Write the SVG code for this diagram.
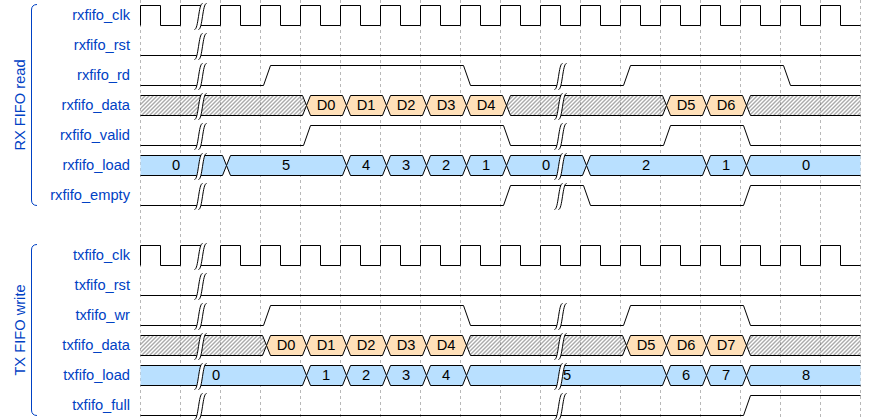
<svg xmlns="http://www.w3.org/2000/svg" xmlns:xlink="http://www.w3.org/1999/xlink" width="880" height="420" viewBox="0 0 880 420">
<defs>
<style>
.name{font-family:"Liberation Sans",Arial,Helvetica,sans-serif;font-size:11pt;fill:#0041c4;text-anchor:end}
.grp{font-family:"Liberation Sans",Arial,Helvetica,sans-serif;font-size:11pt;fill:#0041c4;text-anchor:middle}
.lbl{font-family:"Liberation Sans",Arial,Helvetica,sans-serif;font-size:11pt;fill:#000;text-anchor:middle}
.w{fill:none;stroke:#000;stroke-width:1}
.x{fill:url(#hatch);stroke:#000;stroke-width:1}
.d{fill:#ffe0b9;stroke:#000;stroke-width:1}
.n{fill:#b9e0ff;stroke:#000;stroke-width:1}
.gm{stroke:#999;stroke-width:0.7;stroke-dasharray:3,3}
.br{fill:none;stroke:#0041c4;stroke-width:1}
.gl{fill:none;stroke:#000;stroke-width:1}
</style>
<pattern id="hatch" width="4" height="4" patternUnits="userSpaceOnUse">
<path d="M-1,1 l2,-2 M0,4 l4,-4 M3,5 l2,-2" stroke="#444" stroke-width="0.9"/>
</pattern>
<g id="gap">
<path d="M2,-2 H6 C2,-2 2,24 -2,24 H-6 C-2,24 -2,-2 2,-2 Z" fill="#fff"/>
<path class="gl" d="M-6,24 C-2,24 -2,-2 2,-2"/>
<path class="gl" d="M-2,24 C2,24 2,-2 6,-2"/>
</g>
<path id="clk" class="w" d="M140,25 V5 H160 V25 H180 V5 H200 V25 H220 V5 H240 V25 H260 V5 H280 V25 H300 V5 H320 V25 H340 V5 H360 V25 H380 V5 H400 V25 H420 V5 H440 V25 H460 V5 H480 V25 H500 V5 H520 V25 H540 V5 H560 V25 H580 V5 H600 V25 H620 V5 H640 V25 H660 V5 H680 V25 H700 V5 H720 V25 H740 V5 H760 V25 H780 V5 H800 V25 H820 V5 H840 V25 H860"/>
</defs>
<rect width="880" height="420" fill="#fff"/>

<g id="grid" transform="translate(0.5,0)">
<path class="gm" d="M140,0 V420 M180,0 V420 M220,0 V420 M260,0 V420 M300,0 V420 M340,0 V420 M380,0 V420 M420,0 V420 M460,0 V420 M500,0 V420 M540,0 V420 M580,0 V420 M620,0 V420 M660,0 V420 M700,0 V420 M740,0 V420 M780,0 V420 M820,0 V420 M860,0 V420"/>
</g>

<g id="group-rx">
<path class="br" d="M37,4.5 C33.5,4.5 31.5,6.5 31.5,10 V200 C31.5,203.5 33.5,205.5 37,205.5"/>
<text class="grp" transform="translate(25,105) rotate(-90)">RX FIFO read</text>
</g>
<g id="group-tx">
<path class="br" d="M37,244.5 C33.5,244.5 31.5,246.5 31.5,250 V410 C31.5,413.5 33.5,415.5 37,415.5"/>
<text class="grp" transform="translate(25,330) rotate(-90)">TX FIFO write</text>
</g>

<g id="rxfifo_clk">
<text class="name" x="130" y="20">rxfifo_clk</text>
<g transform="translate(0.5,0.5)"><use xlink:href="#clk"/><use xlink:href="#gap" transform="translate(200,5)"/></g>
</g>
<g id="rxfifo_rst">
<text class="name" x="130" y="50">rxfifo_rst</text>
<g transform="translate(0.5,0.5)"><path class="w" d="M140,55 H860"/><use xlink:href="#gap" transform="translate(200,35)"/></g>
</g>
<g id="rxfifo_rd">
<text class="name" x="130" y="80">rxfifo_rd</text>
<g transform="translate(0.5,0.5)"><path class="w" d="M140,85 H263 L270,65 H463 L470,85 H623 L630,65 H783 L790,85 H860"/>
<use xlink:href="#gap" transform="translate(200,65)"/><use xlink:href="#gap" transform="translate(560,65)"/></g>
</g>
<g id="rxfifo_data">
<text class="name" x="130" y="110">rxfifo_data</text>
<g transform="translate(0.5,0.5)">
<path class="x" d="M140,95 H302 L306,105 L302,115 H140"/>
<path class="d" d="M306,105 L310,95 H342 L346,105 L342,115 H310 Z"/>
<path class="d" d="M346,105 L350,95 H382 L386,105 L382,115 H350 Z"/>
<path class="d" d="M386,105 L390,95 H422 L426,105 L422,115 H390 Z"/>
<path class="d" d="M426,105 L430,95 H462 L466,105 L462,115 H430 Z"/>
<path class="d" d="M466,105 L470,95 H502 L506,105 L502,115 H470 Z"/>
<path class="x" d="M506,105 L510,95 H662 L666,105 L662,115 H510 Z"/>
<path class="d" d="M666,105 L670,95 H702 L706,105 L702,115 H670 Z"/>
<path class="d" d="M706,105 L710,95 H742 L746,105 L742,115 H710 Z"/>
<path class="x" d="M860,95 H750 L746,105 L750,115 H860"/>
<use xlink:href="#gap" transform="translate(200,95)"/><use xlink:href="#gap" transform="translate(560,95)"/>
</g>
<text class="lbl" x="326" y="110">D0</text><text class="lbl" x="366" y="110">D1</text><text class="lbl" x="406" y="110">D2</text><text class="lbl" x="446" y="110">D3</text><text class="lbl" x="486" y="110">D4</text><text class="lbl" x="686" y="110">D5</text><text class="lbl" x="726" y="110">D6</text>
</g>
<g id="rxfifo_valid">
<text class="name" x="130" y="140">rxfifo_valid</text>
<g transform="translate(0.5,0.5)"><path class="w" d="M140,145 H303 L310,125 H503 L510,145 H663 L670,125 H743 L750,145 H860"/>
<use xlink:href="#gap" transform="translate(200,125)"/><use xlink:href="#gap" transform="translate(560,125)"/></g>
</g>
<g id="rxfifo_load">
<text class="name" x="130" y="170">rxfifo_load</text>
<g transform="translate(0.5,0.5)">
<path class="n" d="M140,155 H222 L226,165 L222,175 H140"/>
<path class="n" d="M226,165 L230,155 H342 L346,165 L342,175 H230 Z"/>
<path class="n" d="M346,165 L350,155 H382 L386,165 L382,175 H350 Z"/>
<path class="n" d="M386,165 L390,155 H422 L426,165 L422,175 H390 Z"/>
<path class="n" d="M426,165 L430,155 H462 L466,165 L462,175 H430 Z"/>
<path class="n" d="M466,165 L470,155 H502 L506,165 L502,175 H470 Z"/>
<path class="n" d="M506,165 L510,155 H582 L586,165 L582,175 H510 Z"/>
<path class="n" d="M586,165 L590,155 H702 L706,165 L702,175 H590 Z"/>
<path class="n" d="M706,165 L710,155 H742 L746,165 L742,175 H710 Z"/>
<path class="n" d="M860,155 H750 L746,165 L750,175 H860"/>
<use xlink:href="#gap" transform="translate(200,155)"/><use xlink:href="#gap" transform="translate(560,155)"/>
</g>
<text class="lbl" x="176" y="170">0</text><text class="lbl" x="286" y="170">5</text><text class="lbl" x="366" y="170">4</text><text class="lbl" x="406" y="170">3</text><text class="lbl" x="446" y="170">2</text><text class="lbl" x="486" y="170">1</text><text class="lbl" x="546" y="170">0</text><text class="lbl" x="646" y="170">2</text><text class="lbl" x="726" y="170">1</text><text class="lbl" x="806" y="170">0</text>
</g>
<g id="rxfifo_empty">
<text class="name" x="130" y="200">rxfifo_empty</text>
<g transform="translate(0.5,0.5)"><path class="w" d="M140,205 H503 L510,185 H583 L590,205 H743 L750,185 H860"/>
<use xlink:href="#gap" transform="translate(200,185)"/><use xlink:href="#gap" transform="translate(560,185)"/></g>
</g>

<g id="txfifo_clk">
<text class="name" x="130" y="260">txfifo_clk</text>
<g transform="translate(0.5,240.5)"><use xlink:href="#clk"/><use xlink:href="#gap" transform="translate(200,5)"/></g>
</g>
<g id="txfifo_rst">
<text class="name" x="130" y="290">txfifo_rst</text>
<g transform="translate(0.5,0.5)"><path class="w" d="M140,295 H860"/><use xlink:href="#gap" transform="translate(200,275)"/></g>
</g>
<g id="txfifo_wr">
<text class="name" x="130" y="320">txfifo_wr</text>
<g transform="translate(0.5,0.5)"><path class="w" d="M140,325 H263 L270,305 H463 L470,325 H623 L630,305 H743 L750,325 H860"/>
<use xlink:href="#gap" transform="translate(200,305)"/><use xlink:href="#gap" transform="translate(560,305)"/></g>
</g>
<g id="txfifo_data">
<text class="name" x="130" y="350">txfifo_data</text>
<g transform="translate(0.5,0.5)">
<path class="x" d="M140,335 H262 L266,345 L262,355 H140"/>
<path class="d" d="M266,345 L270,335 H302 L306,345 L302,355 H270 Z"/>
<path class="d" d="M306,345 L310,335 H342 L346,345 L342,355 H310 Z"/>
<path class="d" d="M346,345 L350,335 H382 L386,345 L382,355 H350 Z"/>
<path class="d" d="M386,345 L390,335 H422 L426,345 L422,355 H390 Z"/>
<path class="d" d="M426,345 L430,335 H462 L466,345 L462,355 H430 Z"/>
<path class="x" d="M466,345 L470,335 H622 L626,345 L622,355 H470 Z"/>
<path class="d" d="M626,345 L630,335 H662 L666,345 L662,355 H630 Z"/>
<path class="d" d="M666,345 L670,335 H702 L706,345 L702,355 H670 Z"/>
<path class="d" d="M706,345 L710,335 H742 L746,345 L742,355 H710 Z"/>
<path class="x" d="M860,335 H750 L746,345 L750,355 H860"/>
<use xlink:href="#gap" transform="translate(200,335)"/><use xlink:href="#gap" transform="translate(560,335)"/>
</g>
<text class="lbl" x="286" y="350">D0</text><text class="lbl" x="326" y="350">D1</text><text class="lbl" x="366" y="350">D2</text><text class="lbl" x="406" y="350">D3</text><text class="lbl" x="446" y="350">D4</text><text class="lbl" x="646" y="350">D5</text><text class="lbl" x="686" y="350">D6</text><text class="lbl" x="726" y="350">D7</text>
</g>
<g id="txfifo_load">
<text class="name" x="130" y="380">txfifo_load</text>
<g transform="translate(0.5,0.5)">
<path class="n" d="M140,365 H302 L306,375 L302,385 H140"/>
<path class="n" d="M306,375 L310,365 H342 L346,375 L342,385 H310 Z"/>
<path class="n" d="M346,375 L350,365 H382 L386,375 L382,385 H350 Z"/>
<path class="n" d="M386,375 L390,365 H422 L426,375 L422,385 H390 Z"/>
<path class="n" d="M426,375 L430,365 H462 L466,375 L462,385 H430 Z"/>
<path class="n" d="M466,375 L470,365 H662 L666,375 L662,385 H470 Z"/>
<path class="n" d="M666,375 L670,365 H702 L706,375 L702,385 H670 Z"/>
<path class="n" d="M706,375 L710,365 H742 L746,375 L742,385 H710 Z"/>
<path class="n" d="M860,365 H750 L746,375 L750,385 H860"/>
<use xlink:href="#gap" transform="translate(200,365)"/><use xlink:href="#gap" transform="translate(560,365)"/>
</g>
<text class="lbl" x="216" y="380">0</text><text class="lbl" x="326" y="380">1</text><text class="lbl" x="366" y="380">2</text><text class="lbl" x="406" y="380">3</text><text class="lbl" x="446" y="380">4</text><text class="lbl" x="567" y="380">5</text><text class="lbl" x="686" y="380">6</text><text class="lbl" x="726" y="380">7</text><text class="lbl" x="806" y="380">8</text>
</g>
<g id="txfifo_full">
<text class="name" x="130" y="410">txfifo_full</text>
<g transform="translate(0.5,0.5)"><path class="w" d="M140,415 H743 L750,395 H860"/>
<use xlink:href="#gap" transform="translate(200,395)"/><use xlink:href="#gap" transform="translate(560,395)"/></g>
</g>

<g id="connectors"/>
</svg>
